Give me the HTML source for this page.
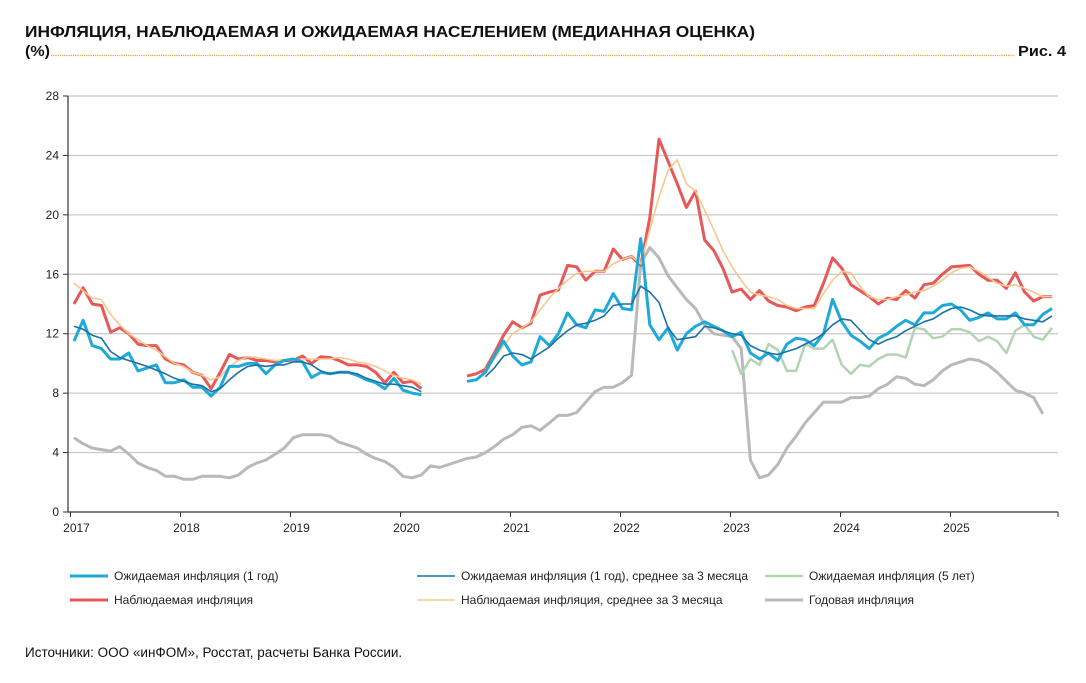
<!DOCTYPE html>
<html><head><meta charset="utf-8"><style>
html,body{margin:0;padding:0;background:#fff;}
svg{display:block;font-family:"Liberation Sans",sans-serif;}
</style></head><body>
<svg id="chart" width="1086" height="683" viewBox="0 0 1086 683" xmlns="http://www.w3.org/2000/svg">
<text x="25" y="37" font-size="16" font-weight="bold" fill="#111" textLength="730" lengthAdjust="spacingAndGlyphs">ИНФЛЯЦИЯ, НАБЛЮДАЕМАЯ И ОЖИДАЕМАЯ НАСЕЛЕНИЕМ (МЕДИАННАЯ ОЦЕНКА)</text>
<text x="25" y="56" font-size="15" font-weight="bold" fill="#111" textLength="25" lengthAdjust="spacingAndGlyphs">(%)</text>
<line x1="51" y1="55.5" x2="1015" y2="55.5" stroke="#d9a53a" stroke-width="1.2" stroke-dasharray="1.2,1"/>
<text x="1066" y="56" font-size="15" font-weight="bold" fill="#111" text-anchor="end" textLength="48" lengthAdjust="spacingAndGlyphs">Рис. 4</text>
<g id="grid"></g><g id="series"></g><g id="axes"></g>
<g id="legend"></g>
<text x="25" y="657" font-size="13.5" fill="#111">Источники: ООО «инФОМ», Росстат, расчеты Банка России.</text>
</svg>
<script>
const yTicks=[0,4,8,12,16,20,24,28];
const years=[2017,2018,2019,2020,2021,2022,2023,2024,2025];
const expected1y=[11.5,12.9,11.2,11.0,10.3,10.3,10.7,9.5,9.7,9.9,8.7,8.7,8.9,8.4,8.4,7.8,8.4,9.8,9.8,10.0,10.0,9.3,9.9,10.2,10.3,10.1,9.05,9.4,9.3,9.4,9.4,9.2,8.9,8.7,8.3,9.0,8.2,8.0,7.9,null,null,null,null,8.8,8.9,9.4,10.5,11.5,10.5,9.9,10.1,11.8,11.2,12.0,13.4,12.6,12.4,13.6,13.5,14.7,13.7,13.6,18.4,12.6,11.6,12.4,10.9,12.0,12.5,12.8,12.5,12.2,11.8,12.1,10.7,10.3,10.7,10.2,11.3,11.7,11.6,11.2,12.0,14.3,12.8,11.9,11.5,11.0,11.7,12.0,12.5,12.9,12.6,13.4,13.4,13.9,14.0,13.6,12.9,13.1,13.4,13.0,13.0,13.4,12.6,12.6,13.3,13.7];
const expected1yAvg=[12.5,12.3,11.9,11.7,10.8,10.4,10.2,10.0,9.8,9.55,9.3,9.0,8.8,8.6,8.5,8.1,8.3,8.9,9.4,9.8,9.9,9.8,9.9,9.9,10.1,10.1,9.9,9.5,9.3,9.4,9.4,9.3,9.0,8.8,8.6,8.6,8.5,8.4,8.1,null,null,null,null,null,null,9.1,9.7,10.5,10.7,10.6,10.3,10.7,11.1,11.7,12.2,12.6,12.7,12.9,13.2,13.9,14.0,14.0,15.2,14.8,14.1,12.4,11.6,11.7,11.8,12.5,12.4,12.2,12.0,11.9,11.2,10.9,10.7,10.6,10.8,11.0,11.3,11.6,12.0,12.6,13.0,12.9,12.25,11.6,11.3,11.6,11.8,12.2,12.5,12.8,13.0,13.4,13.7,13.8,13.6,13.3,13.2,13.2,13.2,13.2,13.0,12.9,12.8,13.2];
const expected5y=[null,null,null,null,null,null,null,null,null,null,null,null,null,null,null,null,null,null,null,null,null,null,null,null,null,null,null,null,null,null,null,null,null,null,null,null,null,null,null,null,null,null,null,null,null,null,null,null,null,null,null,null,null,null,null,null,null,null,null,null,null,null,null,null,null,null,null,null,null,null,null,null,10.9,9.3,10.3,9.9,11.3,10.9,9.5,9.5,11.3,11.0,11.0,11.6,9.9,9.3,9.9,9.8,10.3,10.6,10.6,10.4,12.4,12.3,11.7,11.8,12.3,12.3,12.1,11.5,11.8,11.5,10.7,12.2,12.6,11.8,11.6,12.4];
const observed=[14.0,15.1,14.0,13.9,12.1,12.4,12.0,11.3,11.2,11.2,10.3,10.0,9.9,9.4,9.2,8.3,9.4,10.6,10.3,10.4,10.2,10.2,10.1,10.2,10.2,10.5,10.0,10.45,10.4,10.2,9.9,9.9,9.8,9.4,8.7,9.4,8.7,8.8,8.3,null,null,null,null,9.15,9.3,9.6,10.7,11.9,12.8,12.4,12.7,14.6,14.8,14.95,16.6,16.5,15.6,16.2,16.2,17.7,17.0,17.2,16.6,19.8,25.1,23.6,22.1,20.5,21.6,18.3,17.6,16.4,14.8,15.0,14.3,14.9,14.2,13.9,13.8,13.55,13.8,13.9,15.4,17.1,16.4,15.3,14.9,14.5,14.0,14.4,14.3,14.9,14.4,15.3,15.4,16.0,16.5,16.55,16.6,16.0,15.6,15.6,15.05,16.1,14.8,14.2,14.5,14.5];
const observedAvg=[15.4,14.9,14.4,14.3,13.3,12.6,12.0,11.6,11.2,10.9,10.45,10.0,9.8,9.4,9.2,8.9,9.1,9.8,10.2,10.45,10.4,10.3,10.2,10.2,10.2,10.3,10.3,10.3,10.3,10.4,10.3,10.1,10.0,9.8,9.5,9.2,9.0,8.9,8.6,null,null,null,null,null,null,9.6,10.3,11.2,12.0,12.4,12.8,13.6,14.4,15.05,15.6,16.05,16.2,16.2,16.2,16.7,17.0,17.2,16.7,19.0,21.2,23.0,23.7,22.1,21.6,20.3,19.0,17.6,16.5,15.6,14.8,14.6,14.5,14.3,13.9,13.7,13.7,13.7,14.7,15.6,16.2,16.1,15.2,14.5,14.3,14.3,14.5,14.6,14.8,14.9,15.2,15.6,16.1,16.4,16.5,16.2,15.8,15.4,15.2,15.3,15.05,14.8,14.5,14.5];
const annualCPI=[5.0,4.6,4.3,4.2,4.1,4.4,3.9,3.3,3.0,2.8,2.4,2.4,2.2,2.2,2.4,2.4,2.4,2.3,2.5,3.0,3.3,3.5,3.9,4.3,5.0,5.2,5.2,5.2,5.1,4.7,4.5,4.3,3.9,3.6,3.4,3.0,2.4,2.3,2.5,3.1,3.0,3.2,3.4,3.6,3.7,4.0,4.4,4.9,5.2,5.7,5.8,5.5,6.0,6.5,6.5,6.7,7.4,8.1,8.4,8.4,8.7,9.2,16.7,17.8,17.1,15.9,15.1,14.3,13.7,12.6,12.0,11.9,11.8,11.0,3.5,2.3,2.5,3.2,4.3,5.1,6.0,6.7,7.4,7.4,7.4,7.7,7.7,7.8,8.3,8.6,9.1,9.0,8.6,8.5,8.9,9.5,9.9,10.1,10.3,10.2,9.9,9.4,8.8,8.2,8.0,7.7,6.6,null];
const legendLabels=["Ожидаемая инфляция (1 год)","Ожидаемая инфляция (1 год), среднее за 3 месяца","Ожидаемая инфляция (5 лет)","Наблюдаемая инфляция","Наблюдаемая инфляция, среднее за 3 месяца","Годовая инфляция"];

const NS="http://www.w3.org/2000/svg";
const X0=68,X1=1058,Y0=512,YTOP=96;
function yScale(v){return Y0-v*(Y0-YTOP)/28;}
function xScale(i){return 74+i*9.14;}
function yearX(y){return 70.5+(y-2017)*110;}
function mk(tag,attrs,parent){const e=document.createElementNS(NS,tag);for(const k in attrs)e.setAttribute(k,attrs[k]);parent.appendChild(e);return e;}
const grid=document.getElementById('grid'),axes=document.getElementById('axes'),ser=document.getElementById('series'),leg=document.getElementById('legend');
yTicks.forEach(t=>{
  const y=yScale(t);
  if(t>0){const g=mk('line',{x1:X0,x2:X1,y1:y,y2:y,stroke:'#c8c8c8','stroke-width':1.2},grid);
  
  }
  const tk=mk('line',{x1:X0-5,x2:X0,y1:y,y2:y,stroke:'#333','stroke-width':1},axes);
  
  
  const tx=mk('text',{x:X0-9,y:y+4,'font-size':12,'text-anchor':'end',fill:'#222'},axes);
  tx.textContent=t;
  
  
});
const ya=mk('line',{x1:X0,x2:X0,y1:YTOP,y2:Y0,stroke:'#333','stroke-width':1.2},axes);


const xa=mk('line',{x1:X0,x2:X1,y1:Y0,y2:Y0,stroke:'#333','stroke-width':1.2},axes);


years.forEach(yr=>{
  const x=yearX(yr);
  const tk=mk('line',{x1:x,x2:x,y1:Y0,y2:Y0+5,stroke:'#333','stroke-width':1},axes);
  
  
  const tx=mk('text',{x:x+6,y:Y0+20,'font-size':12,'text-anchor':'middle',fill:'#222'},axes);
  tx.textContent=yr;
  
  
});
const endTick=mk('line',{x1:X1,x2:X1,y1:Y0,y2:Y0+5,stroke:'#333','stroke-width':1},axes);


function pathD(arr){let d='',pen=false;arr.forEach((v,i)=>{if(v===null){pen=false;return;}d+=(pen?'L':'M')+xScale(i).toFixed(1)+','+yScale(v).toFixed(1);pen=true;});return d;}
const styles=[
 {data:annualCPI,color:'#b9b9b9',w:3,name:'annual-inflation-line'},
 {data:expected5y,color:'#b3d3b3',w:2.5,name:'expected-5y-line'},
 {data:observed,color:'#e85858',w:3,name:'observed-inflation-line'},
 {data:observedAvg,color:'#f6c88e',w:1.6,name:'observed-avg-line'},
 {data:expected1y,color:'#1eaad8',w:3,name:'expected-1y-line'},
 {data:expected1yAvg,color:'#1a72a6',w:1.6,name:'expected-1y-avg-line'}
];
styles.forEach(s=>{
  const p=mk('path',{d:pathD(s.data),fill:'none',stroke:s.color,'stroke-width':s.w,'stroke-linejoin':'round'},ser);
  
  
});
const legColors=['#1eaad8','#1a72a6','#b3d3b3','#e85858','#f6c88e','#b9b9b9'];
const legW=[3,1.6,2.5,3,1.6,3];
const legX=[70,417,765],legY=[576,600];
legendLabels.forEach((lab,k)=>{
  const x=legX[k%3],y=legY[Math.floor(k/3)];
  const g=mk('g',{},leg);
  
  
  mk('line',{x1:x,x2:x+38,y1:y,y2:y,stroke:legColors[k],'stroke-width':legW[k]},g);
  const t=mk('text',{x:x+44,y:y+4,'font-size':12,fill:'#222'},g);
  t.textContent=lab;
});
</script>
</body></html>
